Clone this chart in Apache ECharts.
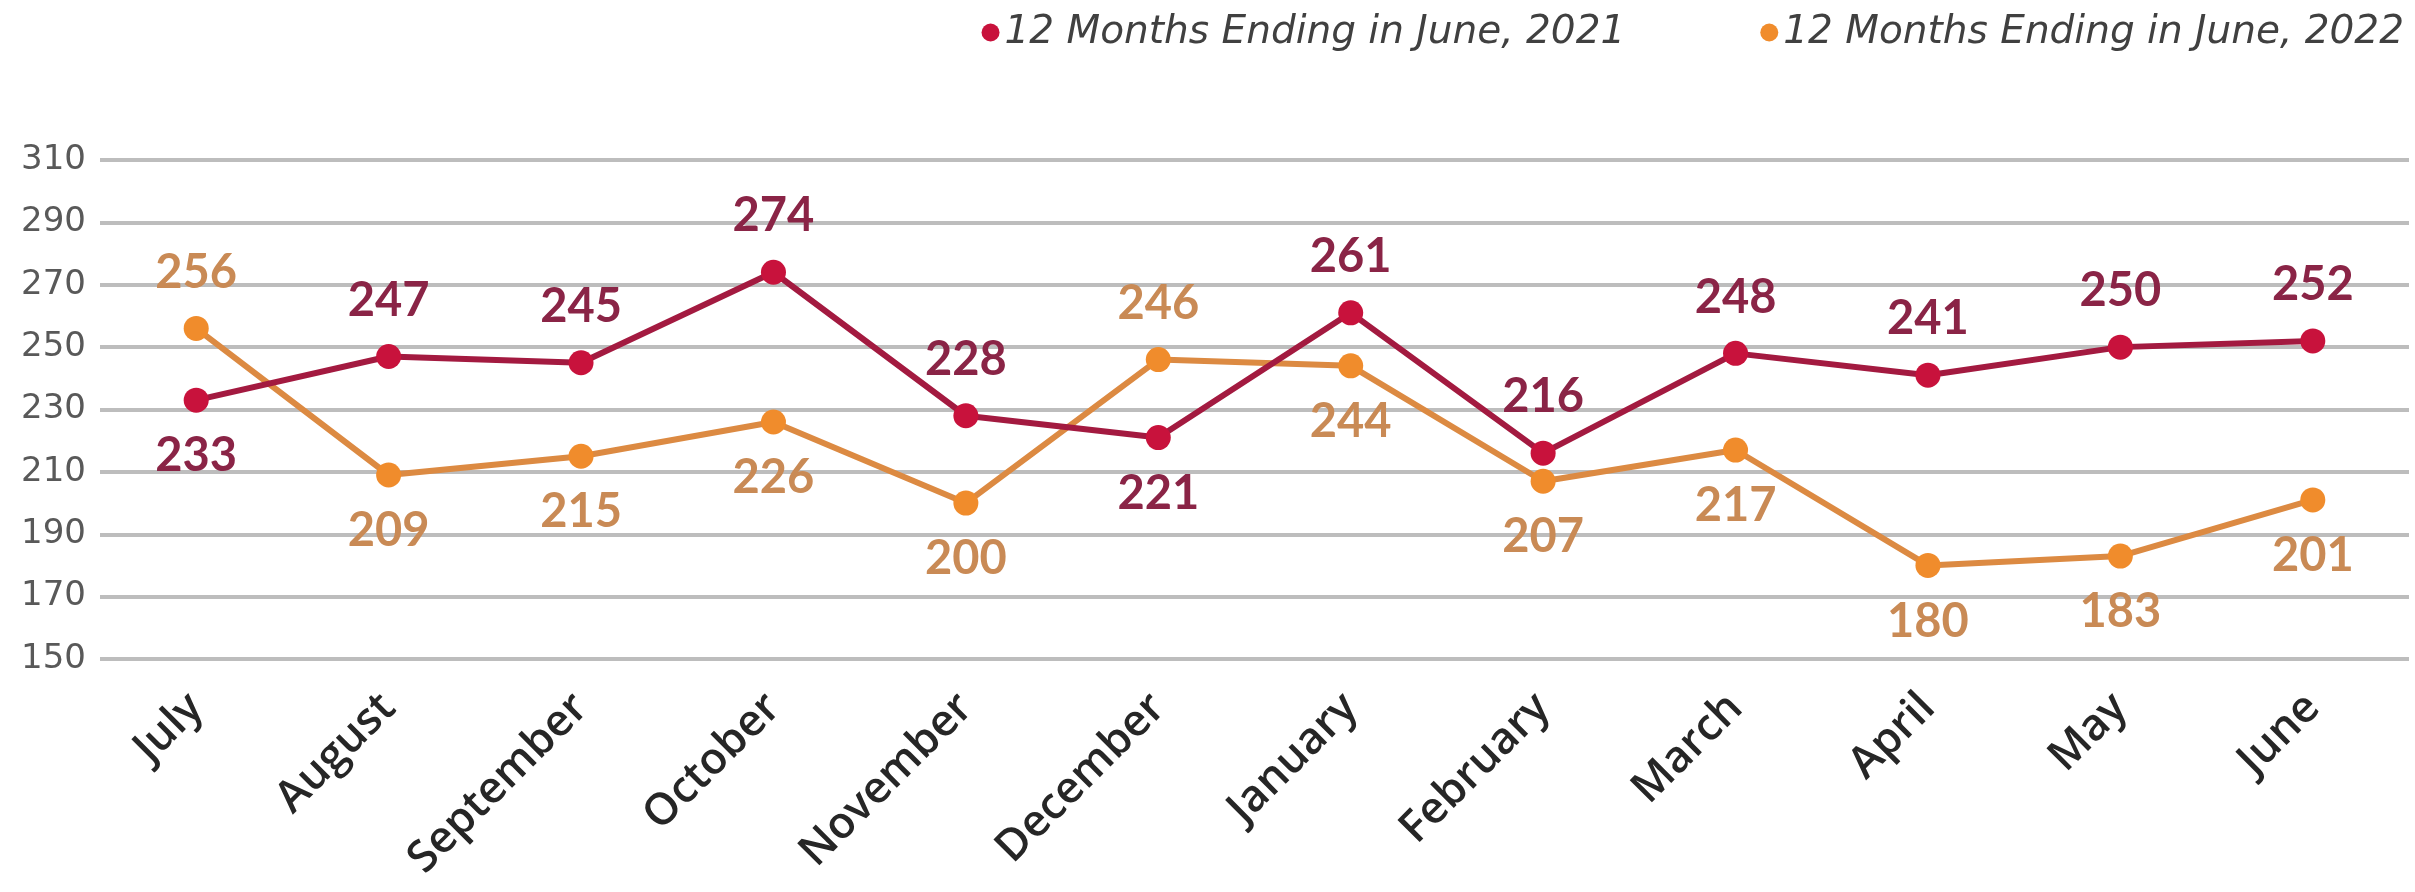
<!DOCTYPE html>
<html>
<head>
<meta charset="utf-8">
<script src="https://cdn.jsdelivr.net/npm/echarts@6/dist/echarts.min.js"></script>
<style>
  html, body { margin: 0; padding: 0; background: #fff; }
  #chart { width: 2415px; height: 892px; }
</style>
</head>
<body>
<div id="chart"></div>
<script>
// chart data
const months = ['July', 'August', 'September', 'October', 'November', 'December',
                'January', 'February', 'March', 'April', 'May', 'June'];
const ending2021 = [233, 247, 245, 274, 228, 221, 261, 216, 248, 241, 250, 252];
const ending2022 = [256, 209, 215, 226, 200, 246, 244, 207, 217, 180, 183, 201];
const seriesNames = ['12 Months Ending in June, 2021', '12 Months Ending in June, 2022'];

// put a label on the outer side of the two lines
function withLabels(values, other) {
    return values.map((v, i) => ({
        value: v,
        label: { position: v >= other[i] ? 'top' : 'bottom' }
    }));
}

const myChart = echarts.init(document.getElementById('chart'));

myChart.setOption({
    animation: false,
    legend: {
        right: 6,
        top: 8,
        icon: 'circle',
        itemWidth: 18,
        itemHeight: 18,
        itemGap: 135,
        textStyle: {
            fontFamily: 'DejaVu Sans',
            fontStyle: 'italic',
            fontSize: 39,
            color: '#404040'
        },
        data: seriesNames
    },
    grid: {
        left: 100,
        right: 6,
        top: 160,
        bottom: 233
    },
    xAxis: {
        type: 'category',
        data: months,
        boundaryGap: true,
        axisLine: { show: false },
        axisTick: { show: false },
        axisLabel: {
            rotate: 45,
            margin: 42,
            fontFamily: 'Open Sans',
            fontWeight: 600,
            fontSize: 44,
            color: '#262626'
        }
    },
    yAxis: {
        type: 'value',
        min: 150,
        max: 310,
        interval: 20,
        axisLine: { show: false },
        axisTick: { show: false },
        axisLabel: {
            margin: 14,
            fontFamily: 'DejaVu Sans',
            fontSize: 34,
            color: '#595959'
        },
        splitLine: {
            lineStyle: { color: '#bdbdbd', width: 4 }
        }
    },
    series: [{
        name: seriesNames[0],
        type: 'line',
        data: withLabels(ending2021, ending2022),
        symbol: 'circle',
        symbolSize: 25,
        lineStyle: { color: '#a31a40', width: 6 },
        itemStyle: { color: '#c8123c' },
        label: {
            show: true,
            distance: 20,
            fontFamily: 'Lato',
            fontWeight: 'bold',
            fontSize: 47,
            color: '#8a2446'
        },
        z: 3
    }, {
        name: seriesNames[1],
        type: 'line',
        data: withLabels(ending2022, ending2021),
        symbol: 'circle',
        symbolSize: 25,
        lineStyle: { color: '#dc8a42', width: 6 },
        itemStyle: { color: '#f08c2c' },
        label: {
            show: true,
            distance: 20,
            fontFamily: 'Lato',
            fontWeight: 'bold',
            fontSize: 47,
            color: '#c98a55'
        },
        z: 2
    }]
});
</script>
</body>
</html>
